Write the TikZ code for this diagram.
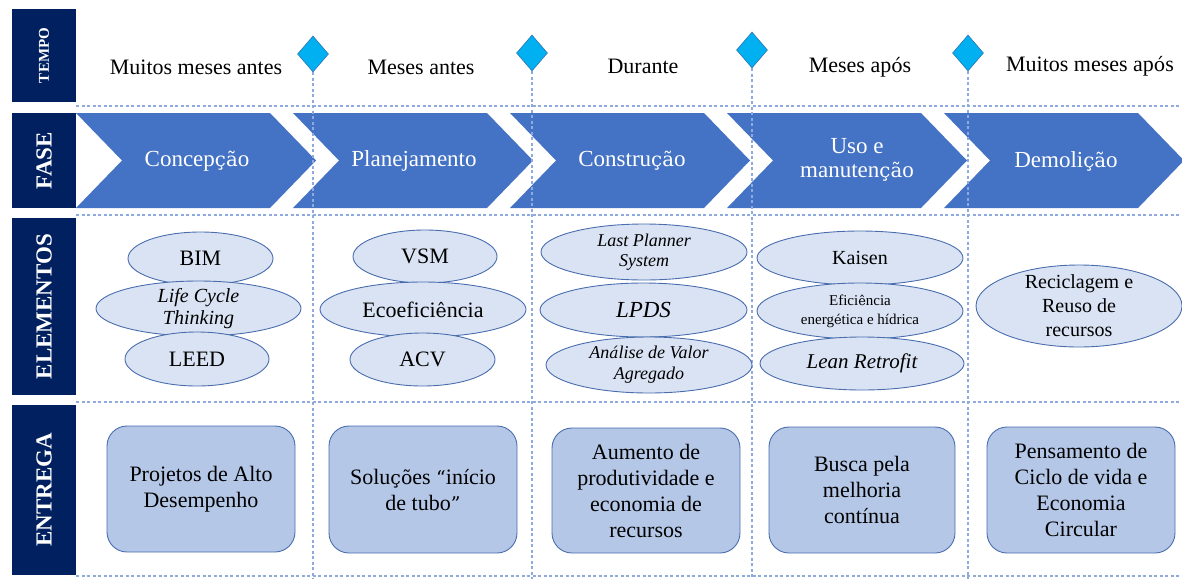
\documentclass[tikz,border=0pt]{standalone}
\usepackage{fontspec}
\newfontfamily\tnr{Liberation Serif}[Ligatures=NoCommon]
\newfontfamily\accf{DejaVu Serif}[Scale=0.86]
\newcommand\xcc{{\accf\char"E7}}
\newcommand\xat{{\accf\char"E3}}
\newcommand\xot{{\accf\char"F5}}
\newcommand\xea{{\accf\char"E9}}
\newcommand\xec{{\accf\char"EA}}
\newcommand\xaa{{\accf\char"E1}}
\newcommand\xia{{\accf\char"ED}}
\newcommand\xoa{{\accf\char"F3}}
\newcommand\xlq{{\accf\char"201C}}
\newcommand\xrq{{\accf\char"201D}}
\usetikzlibrary{shapes.geometric}
\definecolor{navy}{HTML}{002060}
\definecolor{chev}{HTML}{4472C4}
\definecolor{ellfill}{HTML}{DAE3F3}
\definecolor{ellline}{HTML}{4A6DAE}
\definecolor{boxfill}{HTML}{B4C7E7}
\definecolor{dia}{HTML}{00B0F0}
\definecolor{dialine}{HTML}{2E75B6}
\definecolor{dline}{HTML}{8FAADC}
\tikzset{
  lab/.style={fill=navy, rotate=90, minimum height=64pt, inner sep=0pt, text=white,
    font=\tnr\bfseries\fontsize{23}{26}\selectfont},
  chevshape/.style={fill=chev, draw=none},
  chevtxt/.style={text=white, align=center, inner sep=0pt, font=\tnr\fontsize{23}{24}\selectfont},
  timetxt/.style={inner sep=0pt, font=\tnr\fontsize{22}{26}\selectfont},
  dl/.style={draw=dline, line width=1.2pt, dash pattern=on 3pt off 2.5pt},
  dmd/.style={diamond, draw=dialine, fill=dia, line width=0.6pt, minimum width=31pt, minimum height=36pt, inner sep=0pt},
  elli/.style={ellipse, draw=ellline, fill=ellfill, line width=0.9pt, inner sep=0pt},
  etxt/.style={align=center, inner sep=0pt},
  dbox/.style={draw=ellline, fill=boxfill, line width=0.9pt, rounded corners=20pt, inner sep=0pt},
  btxt/.style={align=center, inner sep=0pt, font=\tnr\fontsize{22}{26}\selectfont}
}
\begin{document}
\begin{tikzpicture}[x=1pt,y=-1pt]
\useasboundingbox (0,0) rectangle (1182,579);
% time texts
\node[timetxt] (t1) at (196,67) {Muitos meses antes};
\node[timetxt] (t2) at (421,67) {Meses antes};
\node[timetxt] (t3) at (643,66) {Durante};
\node[timetxt] (t4) at (860,67) {Meses ap\xoa s};
\node[timetxt] (t5) at (1090,66) {Muitos meses ap\xoa s};
% chevrons
\foreach \L in {76,293,510,727,944}{
  \fill[chevshape] (\L,113) -- ({\L+194},113) -- ({\L+240},160.5) -- ({\L+194},208) -- (\L,208) -- ({\L+46},160.5) -- cycle;
}
\node[chevtxt] (p1) at (197,161) {Concep\xcc\xat o};
\node[chevtxt] (p2) at (414,161) {Planejamento};
\node[chevtxt] (p3) at (632,161) {Constru\xcc\xat o};
\node[chevtxt] (p4) at (857,160) {Uso e\\manuten\xcc\xat o};
\node[chevtxt] (p5) at (1066,161) {Demoli\xcc\xat o};
% horizontal dashed lines
\coordinate (ha1) at (76,106); \coordinate (hb1) at (1182,106);
\coordinate (ha2) at (76,215); \coordinate (hb2) at (1182,215);
\coordinate (ha3) at (76,402); \coordinate (hb3) at (1182,402);
\coordinate (ha4) at (76,576); \coordinate (hb4) at (1182,576);
\foreach \i in {1,2,3,4}{ \draw[dl] (ha\i) -- (hb\i); }
% diamonds and vertical lines
\node[dmd] (d1) at (313,54) {};
\node[dmd] (d2) at (532,53) {};
\node[dmd] (d3) at (752,50) {};
\node[dmd] (d4) at (968,53) {};
\coordinate (v1) at (313,579);
\coordinate (v2) at (532,579);
\coordinate (v3) at (752,579);
\coordinate (v4) at (968,579);
\foreach \i in {1,2,3,4}{ \draw[dl] (d\i.south) -- (v\i); }
% ellipses column 1
\node[elli, minimum width=145pt, minimum height=53pt] (e11) at (200.5,258.5) {};
\node[etxt, font=\tnr\fontsize{22}{26}\selectfont] at (e11) {BIM};
\node[elli, minimum width=205pt, minimum height=55pt] (e12) at (198.5,308.5) {};
\node[etxt, font=\tnr\itshape\fontsize{20}{22}\selectfont] at (e12) {Life Cycle\\Thinking};
\node[elli, minimum width=144pt, minimum height=54pt] (e13) at (197,359) {};
\node[etxt, font=\tnr\fontsize{22}{26}\selectfont] at (e13) {LEED};
% column 2
\node[elli, minimum width=144pt, minimum height=53pt] (e21) at (425,256.5) {};
\node[etxt, font=\tnr\fontsize{22}{26}\selectfont] at (e21) {VSM};
\node[elli, minimum width=206pt, minimum height=55pt] (e22) at (423,309.5) {};
\node[etxt, font=\tnr\fontsize{22}{26}\selectfont] at (e22) {Ecoefici\xec ncia};
\node[elli, minimum width=145pt, minimum height=53pt] (e23) at (422.5,359.5) {};
\node[etxt, font=\tnr\fontsize{22}{26}\selectfont] at (e23) {ACV};
% column 3
\node[elli, minimum width=206pt, minimum height=56pt] (e31) at (644,252) {};
\node[etxt, font=\tnr\itshape\fontsize{18}{20}\selectfont] at (e31) {Last Planner\\System};
\node[elli, minimum width=207pt, minimum height=54pt] (e32) at (643.5,310) {};
\node[etxt, font=\tnr\itshape\fontsize{23}{26}\selectfont] at (e32) {LPDS};
\node[elli, minimum width=206pt, minimum height=56pt] (e33) at (649,365) {};
\node[etxt, font=\tnr\itshape\fontsize{18}{21}\selectfont] at (e33) {An\xaa lise de Valor\\Agregado};
% column 4
\node[elli, minimum width=206pt, minimum height=54pt] (e41) at (860,258) {};
\node[etxt, font=\tnr\fontsize{20}{24}\selectfont] at (e41) {Kaisen};
\node[elli, minimum width=206pt, minimum height=56pt] (e42) at (860,311) {};
\node[etxt, font=\tnr\fontsize{15}{19}\selectfont] at (e42) {Efici\xec ncia\\energ\xea tica e h\xia drica};
\node[elli, minimum width=204pt, minimum height=53pt] (e43) at (862,363.5) {};
\node[etxt, font=\tnr\itshape\fontsize{21}{24}\selectfont] at (e43) {Lean Retrofit};
% column 5
\node[elli, minimum width=206pt, minimum height=82pt] (e51) at (1079,306) {};
\node[etxt, font=\tnr\fontsize{20}{24}\selectfont] at (e51) {Reciclagem e\\Reuso de\\recursos};
% deliverable boxes
\node[dbox, minimum width=188pt, minimum height=126pt] (b1) at (201,489) {};
\node[btxt] at (b1) {Projetos de Alto\\Desempenho};
\node[dbox, minimum width=188pt, minimum height=127pt] (b2) at (423,489.5) {};
\node[btxt] at (b2) {Solu\xcc\xot es \xlq in\xia cio\\de tubo\xrq};
\node[dbox, minimum width=188pt, minimum height=125pt] (b3) at (646,490.5) {};
\node[btxt] at (b3) {Aumento de\\produtividade e\\economia de\\recursos};
\node[dbox, minimum width=186pt, minimum height=126pt] (b4) at (862,490) {};
\node[btxt] at (b4) {Busca pela\\melhoria\\cont\xia nua};
\node[dbox, minimum width=188pt, minimum height=126pt] (b5) at (1081,490) {};
\node[btxt] at (b5) {Pensamento de\\Ciclo de vida e\\Economia\\Circular};
% row labels
\node[lab, minimum width=93pt, font=\tnr\bfseries\fontsize{15}{16}\selectfont] (tempo) at (44,55.5) {TEMPO};
\node[lab, minimum width=95pt] (fase) at (44,160.5) {FASE};
\node[lab, minimum width=177pt] (elem) at (44,306.5) {ELEMENTOS};
\node[lab, minimum width=170pt] (entr) at (44,490) {ENTREGA};
\end{tikzpicture}
\end{document}
